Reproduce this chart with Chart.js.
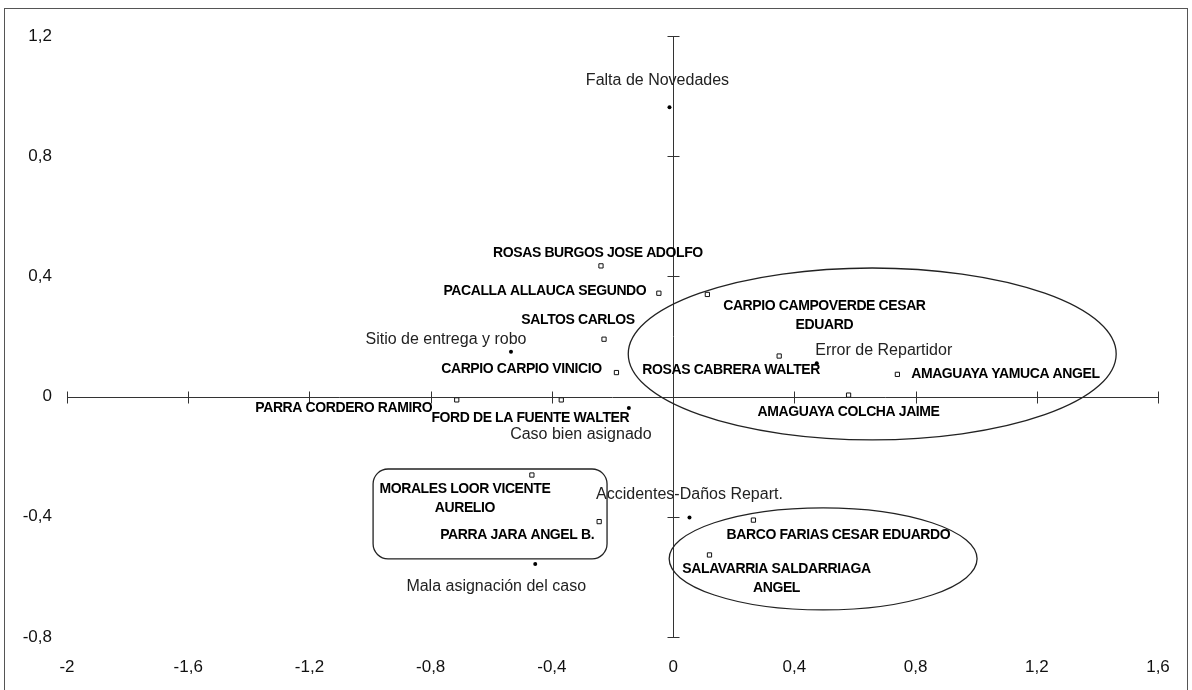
<!DOCTYPE html>
<html>
<head>
<meta charset="utf-8">
<script src="https://cdn.jsdelivr.net/npm/chart.js@4"></script>
<style>
  html, body { margin: 0; padding: 0; background: #fff; }
  #wrap { width: 1192px; height: 690px; }
</style>
</head>
<body>
<div id="wrap"><canvas id="mapa" width="1192" height="690"></canvas></div>
<script>
/* Mapa de correspondencias: repartidores (cuadrados) vs. novedades (puntos) */

// repartidores
const nombres = [
  "ROSAS BURGOS JOSE ADOLFO",
  "PACALLA ALLAUCA SEGUNDO",
  "CARPIO CAMPOVERDE CESAR\nEDUARD",
  "SALTOS CARLOS",
  "CARPIO CARPIO VINICIO",
  "ROSAS CABRERA WALTER",
  "AMAGUAYA YAMUCA ANGEL",
  "AMAGUAYA COLCHA JAIME",
  "PARRA CORDERO RAMIRO",
  "FORD DE LA FUENTE WALTER",
  "MORALES LOOR VICENTE\nAURELIO",
  "PARRA JARA ANGEL B.",
  "BARCO FARIAS CESAR EDUARDO",
  "SALAVARRIA SALDARRIAGA\nANGEL",
];
const nombresX = [-0.238, -0.047, 0.113, -0.228, -0.187, 0.350, 0.740, 0.579, -0.714, -0.369, -0.466, -0.244, 0.265, 0.120];
const nombresY = [0.435, 0.344, 0.340, 0.191, 0.080, 0.135, 0.074, 0.005, -0.011, -0.011, -0.261, -0.416, -0.411, -0.527];

// novedades
const categorias = [
  "Falta de Novedades",
  "Sitio de entrega y robo",
  "Error de Repartidor",
  "Caso bien asignado",
  "Accidentes-Daños Repart.",
  "Mala asignación del caso",
];
const categoriasX = [-0.012, -0.535, 0.474, -0.146, 0.054, -0.455];
const categoriasY = [0.963, 0.149, 0.111, -0.038, -0.402, -0.557];

// ejes
const ticksX = [-2, -1.6, -1.2, -0.8, -0.4, 0, 0.4, 0.8, 1.2, 1.6];
const ticksXTexto = ["-2", "-1,6", "-1,2", "-0,8", "-0,4", "0", "0,4", "0,8", "1,2", "1,6"];
const ticksY = [-0.8, -0.4, 0, 0.4, 0.8, 1.2];
const ticksYTexto = ["-0,8", "-0,4", "0", "0,4", "0,8", "1,2"];

// grupos marcados a mano (en unidades de los ejes)
const elipsesCx = [0.657, 0.495];
const elipsesCy = [0.142, -0.540];
const elipsesRx = [0.805, 0.508];
const elipsesRy = [0.286, 0.170];
const cajaX = [-0.990, -0.218];
const cajaY = [-0.241, -0.540];

// desplazamiento (px) del centro de cada etiqueta respecto a su punto
const offNombres = [
  [-3, -13], [-114, -2], [117, 12], [-26, -19], [-95, -3], [-48, 14], [108, 0],
  [0, 17], [-113, 8], [-31, 18], [-67, 14], [-82, 14], [85, 15], [67, 14],
];
const offCategorias = [[-12, -27], [-65, -12], [67, -13], [-48, 27], [0, -23], [-39, 23]];

const FUENTE = "Arial, 'Liberation Sans', sans-serif";

const marcoPlugin = {
  id: "marco",
  beforeDraw(chart) {
    const ctx = chart.ctx;
    ctx.save();
    ctx.fillStyle = "#fff";
    ctx.fillRect(0, 0, chart.width, chart.height);
    ctx.strokeStyle = "#555";
    ctx.lineWidth = 1;
    ctx.strokeRect(4.5, 8.5, 1183, 700);
    ctx.restore();
  },
  beforeDatasetsDraw(chart) {
    // ejes cruzados en el origen, con sus marcas
    const { ctx, scales: { x, y } } = chart;
    const x0 = Math.round(x.getPixelForValue(0)) + 0.5;
    const y0 = Math.round(y.getPixelForValue(0)) + 0.5;
    ctx.save();
    ctx.strokeStyle = "#333";
    ctx.lineWidth = 1;
    ctx.beginPath();
    ctx.moveTo(x.getPixelForValue(ticksX[0]), y0);
    ctx.lineTo(x.getPixelForValue(ticksX[ticksX.length - 1]), y0);
    ctx.moveTo(x0, y.getPixelForValue(ticksY[ticksY.length - 1]));
    ctx.lineTo(x0, y.getPixelForValue(ticksY[0]));
    ticksX.forEach(v => {
      const px = Math.round(x.getPixelForValue(v)) + 0.5;
      ctx.moveTo(px, y0 - 6);
      ctx.lineTo(px, y0 + 6);
    });
    ticksY.forEach(v => {
      const py = Math.round(y.getPixelForValue(v)) + 0.5;
      ctx.moveTo(x0 - 6, py);
      ctx.lineTo(x0 + 6, py);
    });
    ctx.stroke();
    ctx.restore();
  },
  afterDatasetsDraw(chart) {
    const { ctx, scales: { x, y } } = chart;
    ctx.save();

    // grupos
    ctx.strokeStyle = "#222";
    ctx.lineWidth = 1.3;
    elipsesCx.forEach((cx, i) => {
      const px = x.getPixelForValue(cx);
      const py = y.getPixelForValue(elipsesCy[i]);
      const rx = x.getPixelForValue(cx + elipsesRx[i]) - px;
      const ry = py - y.getPixelForValue(elipsesCy[i] + elipsesRy[i]);
      ctx.beginPath();
      ctx.ellipse(px, py, rx, ry, 0, 0, Math.PI * 2);
      ctx.stroke();
    });
    const bx1 = x.getPixelForValue(cajaX[0]), bx2 = x.getPixelForValue(cajaX[1]);
    const by1 = y.getPixelForValue(cajaY[0]), by2 = y.getPixelForValue(cajaY[1]);
    ctx.beginPath();
    ctx.roundRect(bx1, by1, bx2 - bx1, by2 - by1, 15);
    ctx.stroke();

    // etiquetas
    ctx.textAlign = "center";
    ctx.textBaseline = "middle";
    ctx.fillStyle = "#000";
    ctx.font = "bold 14px " + FUENTE;
    if ("letterSpacing" in ctx) ctx.letterSpacing = "-0.4px";
    nombres.forEach((txt, i) => {
      const px = x.getPixelForValue(nombresX[i]) + offNombres[i][0];
      const py = y.getPixelForValue(nombresY[i]) + offNombres[i][1];
      txt.split("\n").forEach((linea, j) => ctx.fillText(linea, px, py + j * 19));
    });
    if ("letterSpacing" in ctx) ctx.letterSpacing = "0px";
    ctx.font = "16px " + FUENTE;
    ctx.fillStyle = "#222";
    categorias.forEach((txt, i) => {
      const px = x.getPixelForValue(categoriasX[i]) + offCategorias[i][0];
      const py = y.getPixelForValue(categoriasY[i]) + offCategorias[i][1];
      ctx.fillText(txt, px, py);
    });
    ctx.restore();
  },
};

new Chart(document.getElementById("mapa"), {
  type: "scatter",
  data: {
    datasets: [
      {
        label: "Repartidores",
        data: nombresX.map((v, i) => ({ x: v, y: nombresY[i] })),
        pointStyle: "rect",
        pointRadius: 3,
        borderColor: "#111",
        backgroundColor: "#fff",
        borderWidth: 1,
      },
      {
        label: "Novedades",
        data: categoriasX.map((v, i) => ({ x: v, y: categoriasY[i] })),
        pointStyle: "circle",
        pointRadius: 2,
        borderColor: "#000",
        backgroundColor: "#000",
        borderWidth: 0,
      },
    ],
  },
  options: {
    responsive: false,
    animation: false,
    layout: { padding: { left: 0, right: 34, top: 36, bottom: 0 } },
    plugins: { legend: { display: false }, tooltip: { enabled: false } },
    scales: {
      x: {
        type: "linear",
        min: -2,
        max: 1.6,
        grid: { display: false, drawTicks: false },
        border: { display: false },
        afterBuildTicks: (s) => { s.ticks = ticksX.map(v => ({ value: v })); },
        afterFit: (s) => { s.height = 53; },
        ticks: {
          padding: 20,
          color: "#111",
          font: { family: FUENTE, size: 17 },
          maxRotation: 0,
          autoSkip: false,
          callback: (v, i) => ticksXTexto[i],
        },
      },
      y: {
        type: "linear",
        min: -0.8,
        max: 1.2,
        grid: { display: false, drawTicks: false },
        border: { display: false },
        afterBuildTicks: (s) => { s.ticks = ticksY.map(v => ({ value: v })); },
        afterFit: (s) => { s.width = 67; },
        ticks: {
          padding: 15,
          color: "#111",
          font: { family: FUENTE, size: 17 },
          autoSkip: false,
          callback: (v, i) => ticksYTexto[i],
        },
      },
    },
  },
  plugins: [marcoPlugin],
});
</script>
</body>
</html>
